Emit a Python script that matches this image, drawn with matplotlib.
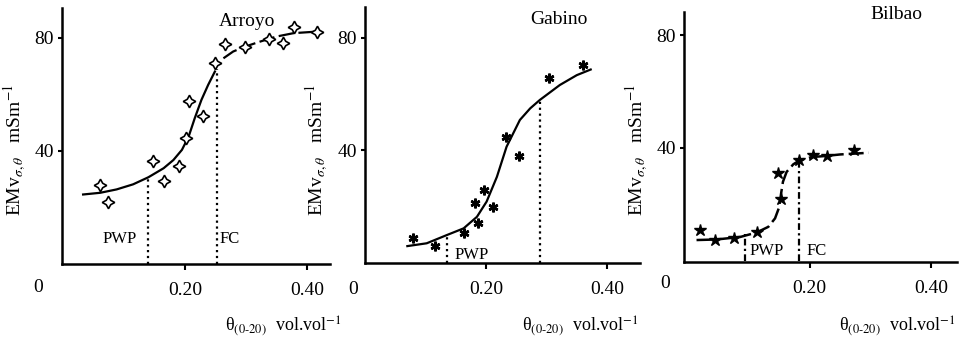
import matplotlib.pyplot as plt
from matplotlib.markers import MarkerStyle

plt.rcParams['font.family'] = ['Liberation Serif', 'DejaVu Serif']
plt.rcParams['mathtext.fontset'] = 'stix'

# ---------------- data ----------------
# Arroyo
arroyo_x = [0.060, 0.073, 0.147, 0.166, 0.191, 0.202, 0.207, 0.229, 0.249,
            0.266, 0.298, 0.338, 0.361, 0.378, 0.416]
arroyo_y = [28.0, 21.8, 36.5, 29.5, 34.7, 44.5, 57.7, 52.5, 71.3,
            77.8, 76.7, 79.5, 78.3, 83.8, 82.0]
arroyo_fit1_x = [0.033, 0.061, 0.088, 0.115, 0.140, 0.165, 0.181, 0.195,
                 0.206, 0.216, 0.227, 0.238, 0.249]
arroyo_fit1_y = [24.6, 25.2, 26.4, 28.2, 30.7, 33.9, 36.8, 40.4,
                 45.1, 51.6, 58.1, 63.4, 68.1]
arroyo_fit2_x = [0.263, 0.279, 0.298, 0.323, 0.350, 0.378, 0.413]
arroyo_fit2_y = [72.8, 75.2, 76.9, 78.7, 80.5, 81.7, 82.2]
arroyo_pwp = (0.140, 30.7)
arroyo_fc = (0.252, 68.9)

# Gabino
gabino_x = [0.079, 0.116, 0.164, 0.181, 0.186, 0.197, 0.212, 0.233, 0.255,
            0.304, 0.361]
gabino_y = [8.8, 6.0, 10.5, 21.2, 14.1, 25.9, 20.0, 44.8, 38.1, 65.6, 70.3]
gabino_fit_x = [0.070, 0.102, 0.135, 0.163, 0.185, 0.201, 0.218, 0.234,
                0.256, 0.273, 0.289, 0.322, 0.350, 0.373]
gabino_fit_y = [6.0, 7.0, 9.9, 12.3, 16.4, 21.8, 30.6, 41.3,
                50.8, 54.9, 57.9, 63.2, 66.7, 68.7]
gabino_pwp = (0.135, 9.9)
gabino_fc = (0.289, 57.9)

# Bilbao
bilbao_x = [0.020, 0.044, 0.075, 0.113, 0.148, 0.153, 0.183, 0.205, 0.229, 0.272]
bilbao_y = [10.8, 7.3, 8.2, 10.2, 31.2, 21.8, 35.9, 37.4, 37.1, 39.2]
bilbao_fit_x = [0.014, 0.047, 0.086, 0.113, 0.132, 0.143, 0.150, 0.153,
                0.156, 0.162, 0.173, 0.184, 0.204, 0.223, 0.250, 0.297]
bilbao_fit_y = [7.3, 7.5, 8.4, 10.0, 12.0, 15.0, 19.1, 23.9,
                28.0, 31.5, 34.2, 35.7, 36.8, 37.1, 37.7, 38.3]
bilbao_pwp = (0.093, 9.5)
bilbao_fc = (0.183, 35.0)

W, H = 965, 340
fig = plt.figure(figsize=(W / 100, H / 100), dpi=100)


def make_axes(left, right, top, bottom, xlim, ylim):
    ax = fig.add_axes([left / W, 1 - bottom / H, (right - left) / W, (bottom - top) / H])
    ax.set_xlim(*xlim)
    ax.set_ylim(*ylim)
    for s in ['top', 'right']:
        ax.spines[s].set_visible(False)
    for s in ['left', 'bottom']:
        ax.spines[s].set_linewidth(1.8)
    ax.set_xticks([0.20, 0.40])
    ax.set_xticklabels(['0.20', '0.40'])
    ax.set_yticks([40, 80])
    ax.set_yticklabels(['40', '80'])
    ax.tick_params(axis='x', length=4, width=1.5, pad=9, labelsize=14)
    ax.tick_params(axis='y', length=3, width=1.5, pad=3, labelsize=14)
    ax.patch.set_alpha(0)
    return ax


def vline(ax, pt, ls=':'):
    ax.plot([pt[0], pt[0]], [0, pt[1]], color='black', linestyle=ls, lw=1.6)


ylab = r'EMv$_{\sigma,\theta}$   mSm$^{-1}$'
xlab = r'θ$_{(0\text{-}20)}$  vol.vol$^{-1}$'

# ---- panel 1: Arroyo ----
ax1 = make_axes(62, 330, 8, 264, (-0.0016, 0.4377), (0, 90.6))
ax1.plot(arroyo_fit1_x, arroyo_fit1_y, color='black', lw=1.6)
ax1.plot(arroyo_fit2_x, arroyo_fit2_y, color='black', lw=1.6, linestyle=(0, (7, 2)))
star4 = MarkerStyle((4, 1, 0))
ax1.plot(arroyo_x, arroyo_y, linestyle='none', marker=star4, markersize=9,
         markerfacecolor='white', markeredgecolor='black', markeredgewidth=1.2)
vline(ax1, arroyo_pwp)
vline(ax1, arroyo_fc)
ax1.text(0.093, 8.8, 'PWP', fontsize=12, ha='center', va='center')
ax1.text(0.274, 8.8, 'FC', fontsize=12, ha='center', va='center')
ax1.text(0.301, 85.8, 'Arroyo', fontsize=14, ha='center', va='center')

# ---- panel 2: Gabino ----
ax2 = make_axes(365, 640, 7, 263, (0, 0.4545), (0, 90.9))
ax2.plot(gabino_fit_x, gabino_fit_y, color='black', lw=1.6)
ax2.plot(gabino_x, gabino_y, linestyle='none', marker=(6, 2, 0), markersize=7,
         markeredgecolor='black', markeredgewidth=1.8)
vline(ax2, gabino_pwp)
vline(ax2, gabino_fc)
ax2.text(0.176, 2.8, 'PWP', fontsize=12, ha='center', va='center')
ax2.text(0.320, 86.3, 'Gabino', fontsize=14, ha='center', va='center')

# ---- panel 3: Bilbao ----
ax3 = make_axes(684, 957, 12, 262, (-0.0066, 0.442), (-0.5, 88.3))
ax3.plot(bilbao_fit_x, bilbao_fit_y, color='black', lw=1.8, linestyle=(0, (6, 2)))
ax3.plot(bilbao_x, bilbao_y, linestyle='none', marker='*', markersize=9,
         color='black')
vline(ax3, bilbao_pwp, ls=(0, (3, 1.5, 1, 1.5)))
vline(ax3, bilbao_fc, ls=(0, (3, 1.5, 1, 1.5)))
ax3.text(0.129, 3.3, 'PWP', fontsize=12, ha='center', va='center')
ax3.text(0.212, 3.3, 'FC', fontsize=12, ha='center', va='center')
ax3.text(0.343, 87.3, 'Bilbao', fontsize=14, ha='center', va='center')

# shared labels placed in pixel positions
for x0, y0 in [(38, 288), (353, 290), (665, 283)]:
    fig.text(x0 / W, 1 - y0 / H, '0', fontsize=14, ha='center', va='center')
for x0 in [15, 317, 637]:
    fig.text(x0 / W, 1 - 150 / H, ylab, fontsize=14, rotation=90,
             ha='center', va='center')
for x0 in [283, 580, 897]:
    fig.text(x0 / W, 1 - 326 / H, xlab, fontsize=13, ha='center', va='center')

fig.savefig('out.png', dpi=100)
